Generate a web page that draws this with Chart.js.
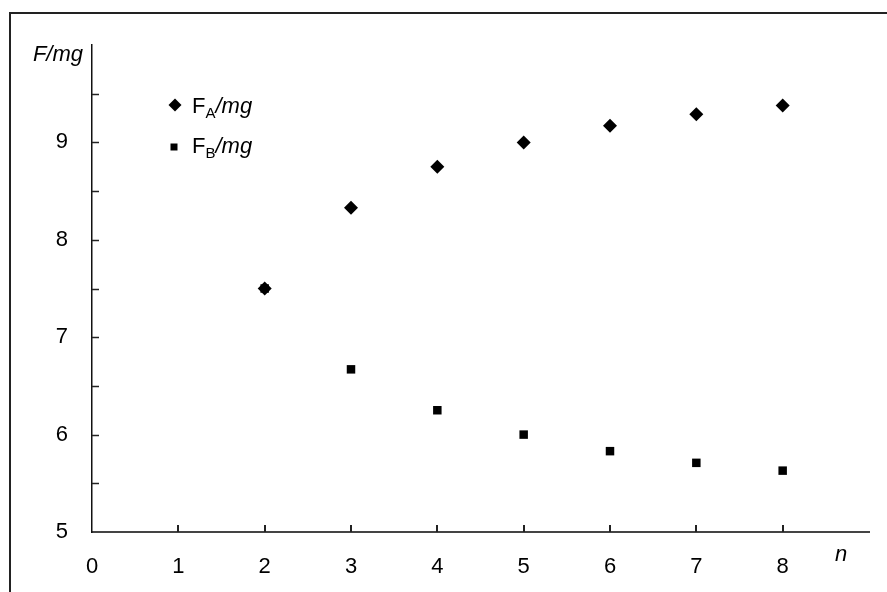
<!DOCTYPE html>
<html lang="en">
<head>
    <meta charset="UTF-8">
    <title>F/mg vs n</title>
    <script src="https://cdn.jsdelivr.net/npm/chart.js"></script>
    <style>
        html, body {
            margin: 0;
            padding: 0;
            background: #fff;
            overflow: hidden;
        }
        .frame {
            position: absolute;
            left: 9px;
            top: 12px;
            width: 900px;
            height: 600px;
            border-left: 2px solid #222;
            border-top: 2px solid #222;
        }
        .wrap {
            position: absolute;
            left: 0;
            top: 0;
            width: 887px;
            height: 592px;
        }
    </style>
</head>
<body>
<div class="frame"></div>
<div class="wrap"><canvas id="chart" width="887" height="592"></canvas></div>

<script>
// data
const nValues = [2, 3, 4, 5, 6, 7, 8];
const faValues = [7.5, 8.33, 8.75, 9.0, 9.17, 9.29, 9.38];
const fbValues = [7.5, 6.67, 6.25, 6.0, 5.83, 5.71, 5.63];

// tick labels
const xTickLabels = [0, 1, 2, 3, 4, 5, 6, 7, 8];
const yTickLabels = [5, 6, 7, 8, 9];

const FONT = '"Liberation Sans", Arial, sans-serif';

function toPoints(xs, ys) {
    return xs.map((x, i) => ({ x: x, y: ys[i] }));
}

// ticks drawn inward + axis titles + legend
const extras = {
    id: 'extras',
    afterDraw(chart) {
        const ctx = chart.ctx;
        const xs = chart.scales.x;
        const ys = chart.scales.y;
        const area = chart.chartArea;

        ctx.save();
        // x ticks pointing up
        ctx.strokeStyle = '#222';
        ctx.lineWidth = 2;
        for (let v = 1; v <= 8; v++) {
            const px = Math.round(xs.getPixelForValue(v));
            ctx.beginPath();
            ctx.moveTo(px, area.bottom);
            ctx.lineTo(px, area.bottom - 7);
            ctx.stroke();
        }
        // y ticks pointing right, every 0.5
        ctx.lineWidth = 1.5;
        for (let v = 5.5; v < 10; v += 0.5) {
            const py = Math.round(ys.getPixelForValue(v)) + 0.5;
            ctx.beginPath();
            ctx.moveTo(area.left, py);
            ctx.lineTo(area.left + 7, py);
            ctx.stroke();
        }

        // axis titles
        ctx.fillStyle = '#000';
        ctx.font = 'italic 22px ' + FONT;
        ctx.textBaseline = 'alphabetic';
        ctx.textAlign = 'right';
        ctx.fillText('F/mg', 83, 61);
        ctx.textAlign = 'left';
        ctx.fillText('n', 835, 561);

        // legend
        const rows = [
            { sub: 'A', marker: 'diamond', mx: 175, my: 105, tx: 192, ty: 113 },
            { sub: 'B', marker: 'square', mx: 174, my: 147, tx: 192, ty: 153 }
        ];
        rows.forEach(r => {
            ctx.beginPath();
            if (r.marker === 'diamond') {
                ctx.moveTo(r.mx, r.my - 6.5);
                ctx.lineTo(r.mx + 6.5, r.my);
                ctx.lineTo(r.mx, r.my + 6.5);
                ctx.lineTo(r.mx - 6.5, r.my);
                ctx.closePath();
            } else {
                ctx.rect(r.mx - 3.5, r.my - 3.5, 7, 7);
            }
            ctx.fill();

            let x = r.tx;
            ctx.font = '22px ' + FONT;
            ctx.fillText('F', x, r.ty);
            x += ctx.measureText('F').width;
            ctx.font = '15px ' + FONT;
            ctx.fillText(r.sub, x, r.ty + 5);
            x += ctx.measureText(r.sub).width;
            ctx.font = 'italic 22px ' + FONT;
            ctx.fillText('/mg', x, r.ty);
        });
        ctx.restore();
    }
};

new Chart(document.getElementById('chart'), {
    type: 'scatter',
    data: {
        datasets: [
            {
                label: 'FA/mg',
                data: toPoints(nValues, faValues),
                pointStyle: 'rectRot',
                pointRadius: 7,
                pointHoverRadius: 7,
                backgroundColor: '#000',
                borderColor: '#000',
                borderWidth: 0
            },
            {
                label: 'FB/mg',
                data: toPoints(nValues, fbValues),
                pointStyle: 'rect',
                pointRadius: 6,
                pointHoverRadius: 6,
                backgroundColor: '#000',
                borderColor: '#000',
                borderWidth: 0
            }
        ]
    },
    options: {
        responsive: false,
        animation: false,
        events: [],
        layout: {
            padding: { top: 45, right: 18, left: 0, bottom: 0 }
        },
        plugins: {
            legend: { display: false },
            tooltip: { enabled: false }
        },
        scales: {
            x: {
                type: 'linear',
                min: 0,
                max: 9,
                afterFit: s => { s.height = 60; },
                afterBuildTicks: s => { s.ticks = xTickLabels.map(v => ({ value: v })); },
                ticks: {
                    color: '#000',
                    font: { family: FONT, size: 22 },
                    padding: 22,
                    maxRotation: 0,
                    autoSkip: false
                },
                grid: { display: false, drawTicks: false },
                border: { display: true, color: '#444', width: 2 }
            },
            y: {
                type: 'linear',
                min: 5,
                max: 10,
                afterFit: s => { s.width = 92; },
                afterBuildTicks: s => { s.ticks = yTickLabels.map(v => ({ value: v })); },
                ticks: {
                    color: '#000',
                    font: { family: FONT, size: 22 },
                    padding: 24,
                    autoSkip: false
                },
                grid: { display: false, drawTicks: false },
                border: { display: true, color: '#111', width: 1.5 }
            }
        }
    },
    plugins: [extras]
});
</script>
</body>
</html>
